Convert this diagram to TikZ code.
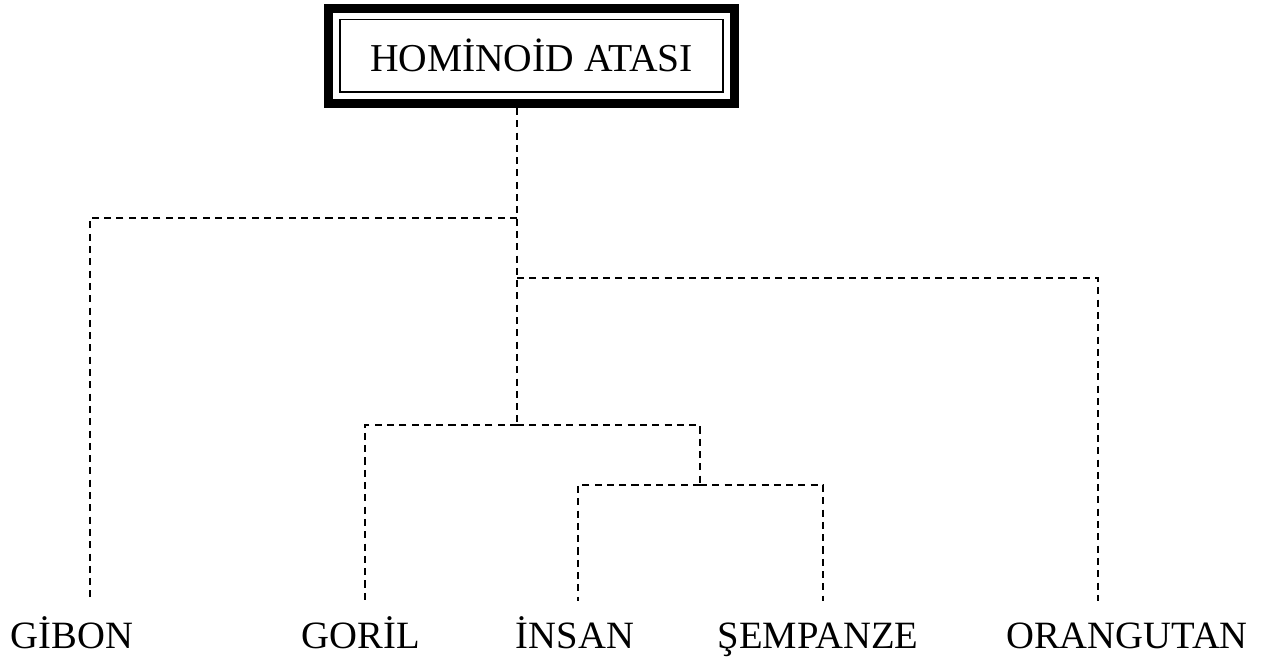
\documentclass[tikz,border=0pt]{standalone}
\usepackage{fontspec}
\setmainfont{Liberation Serif}
\usetikzlibrary{positioning,fit,calc}

\tikzset{
    % Ancestor box and its heavy frame
    ancestor/.style={
        rectangle, draw, line width=1.1pt,
        minimum width=7.66cm, minimum height=1.45cm,
        font=\fontsize{22.5}{26}\selectfont
    },
    heavyframe/.style={
        rectangle, draw, line width=0.18cm, inner sep=0.21cm
    },
    % Leaf labels
    taxon/.style={
        font=\fontsize{22}{26}\selectfont, inner sep=0pt,
        text height=0.7cm, text depth=0.2cm, anchor=base,
        outer ysep=0.24cm
    },
    % Dashed tree branches
    branch/.style={
        line width=1.1pt, dash pattern=on 4pt off 3pt
    }
}

\begin{document}
\begin{tikzpicture}[x=0.02cm, y=-0.02cm]
\useasboundingbox (0,0) rectangle (1264,656);

% Common ancestor
\node[ancestor] (root) at (531.5,55.75) {HOMİNOİD ATASI};
\node[heavyframe, fit=(root)] (frame) {};

% Living species
\node[taxon] (gibon) at (72,648) {GİBON};
\node[taxon] (goril) at (361,648) {GORİL};
\node[taxon] (insan) at (575,648) {İNSAN};
\node[taxon] (sempanze) at (818,648) {ŞEMPANZE};
\node[taxon] (orangutan) at (1127,648) {ORANGUTAN};

% Branching points
\coordinate (j1) at (517,218);
\coordinate (j2) at (517,278);
\coordinate (j3) at (517,425);
\coordinate (j4) at (700,485);

% Tree
\draw[branch] (frame.south -| j1) -- (j3);
\draw[branch] (j1) -| ([shift={(18,0)}]gibon.north);
\draw[branch] (j2) -| ([shift={(-29,0)}]orangutan.north);
\draw[branch] (j3) -| ([shift={(4,0)}]goril.north);
\draw[branch] (j3) -| (j4);
\draw[branch] (j4) -| ([shift={(3,0)}]insan.north);
\draw[branch] (j4) -| ([shift={(5,0)}]sempanze.north);

\end{tikzpicture}
\end{document}
